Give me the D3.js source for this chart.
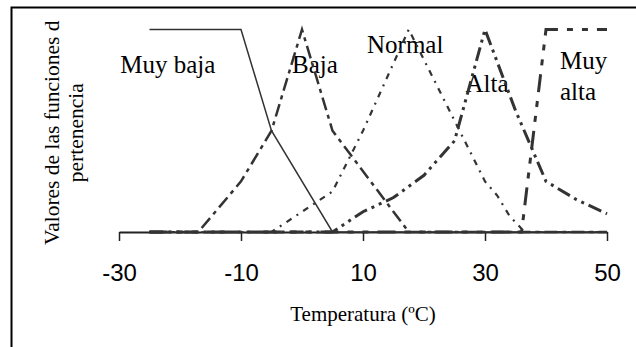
<!DOCTYPE html>
<html>
<head>
<meta charset="utf-8">
<script src="https://cdn.jsdelivr.net/npm/d3@7"></script>
<style>
  html, body { margin: 0; padding: 0; background: #fff; }
  svg { display: block; }
</style>
</head>
<body>
<svg id="chart" width="636" height="347"></svg>
<script>
// temperature (ºC) / membership value pairs
const muyBaja = [[-25, 1], [-10, 1], [-5, 0.5], [5, 0], [50, 0]];
const baja = [[-25, 0], [-17, 0], [-10, 0.25], [-5, 0.5], [0, 1], [5, 0.5], [10, 0.3], [17.5, 0], [50, 0]];
const normal = [[-25, 0], [-5, 0], [0, 0.1], [5, 0.2], [10, 0.5], [17.5, 1], [25, 0.55], [30, 0.25], [32, 0.18], [34, 0.08], [36.5, 0], [50, 0]];
const alta = [[-25, 0], [5, 0], [10, 0.1], [15, 0.17], [20, 0.28], [25, 0.45], [30, 1], [35, 0.6], [40, 0.25], [45, 0.16], [50, 0.09]];
const muyAlta = [[-25, 0], [36, 0], [40, 1], [50, 1]];

const xTicks = [-30, -10, 10, 30, 50];
const labels = [
  {text: 'Muy baja', t: -29.8, v: 0.785},
  {text: 'Baja', t: -1.64, v: 0.785},
  {text: 'Normal', t: 10.66, v: 0.884},
  {text: 'Alta', t: 26.8, v: 0.69},
  {text: 'Muy', t: 42.3, v: 0.803},
  {text: 'alta', t: 42.3, v: 0.654}
];

const svg = d3.select('#chart');

const x = d3.scaleLinear().domain([-30, 50]).range([119, 607]);
const y = d3.scaleLinear().domain([0, 1]).range([232, 29.5]);

// outer frame (only left and top edges fall inside the picture)
svg.append('path')
  .attr('d', 'M11.5,360V7.5H640')
  .attr('fill', 'none')
  .attr('stroke', '#000')
  .attr('stroke-width', 2);

// x axis
const axis = svg.append('g')
  .attr('transform', `translate(0,${y(0)})`)
  .call(d3.axisBottom(x).tickValues(xTicks).tickSize(9).tickSizeOuter(0).tickFormat(d => String(d)));
axis.select('.domain').attr('stroke', '#222').attr('stroke-width', 2);
axis.selectAll('.tick line').attr('stroke', '#222').attr('stroke-width', 1.5);
axis.selectAll('.tick text')
  .attr('y', 49)
  .attr('dy', null)
  .attr('fill', '#000')
  .style('font-family', '"Liberation Sans", Arial, sans-serif')
  .style('font-size', '24px');

// axis titles
svg.append('text')
  .attr('x', (x(-30) + x(50)) / 2)
  .attr('y', 321)
  .attr('text-anchor', 'middle')
  .style('font-family', '"Liberation Serif", "Times New Roman", serif')
  .style('font-size', '21px')
  .text('Temperatura (ºC)');

const yTitle = svg.append('text')
  .attr('transform', `translate(59,${(y(0) + y(1)) / 2 + 2}) rotate(-90)`)
  .attr('text-anchor', 'middle')
  .style('font-family', '"Liberation Serif", "Times New Roman", serif')
  .style('font-size', '21.5px');
yTitle.append('tspan').attr('x', 0).attr('y', 0).text('Valores de las funciones d');
yTitle.append('tspan').attr('x', 0).attr('y', 24).text('pertenencia');

// set labels
svg.selectAll('text.lbl')
  .data(labels)
  .enter()
  .append('text')
  .attr('class', 'lbl')
  .attr('x', d => x(d.t))
  .attr('y', d => y(d.v))
  .style('font-family', '"Liberation Serif", "Times New Roman", serif')
  .style('font-size', '25px')
  .text(d => d.text);

// membership curves
const line = d3.line().x(d => x(d[0])).y(d => y(d[1]));
const series = [
  {data: muyBaja, width: 1.5, dash: null},
  {data: baja, width: 2.5, dash: '13,5,4,5'},
  {data: normal, width: 2.2, dash: '6,6,2,6'},
  {data: alta, width: 3, dash: '14,5,3,5,3,5'},
  {data: muyAlta, width: 3, dash: '18,9,6,9,6,9'}
];
svg.append('g')
  .selectAll('path')
  .data(series)
  .enter()
  .append('path')
  .attr('d', d => line(d.data))
  .attr('fill', 'none')
  .attr('stroke', '#333')
  .attr('stroke-width', d => d.width)
  .attr('stroke-dasharray', d => d.dash)
  .attr('stroke-linejoin', 'miter');
</script>
</body>
</html>
